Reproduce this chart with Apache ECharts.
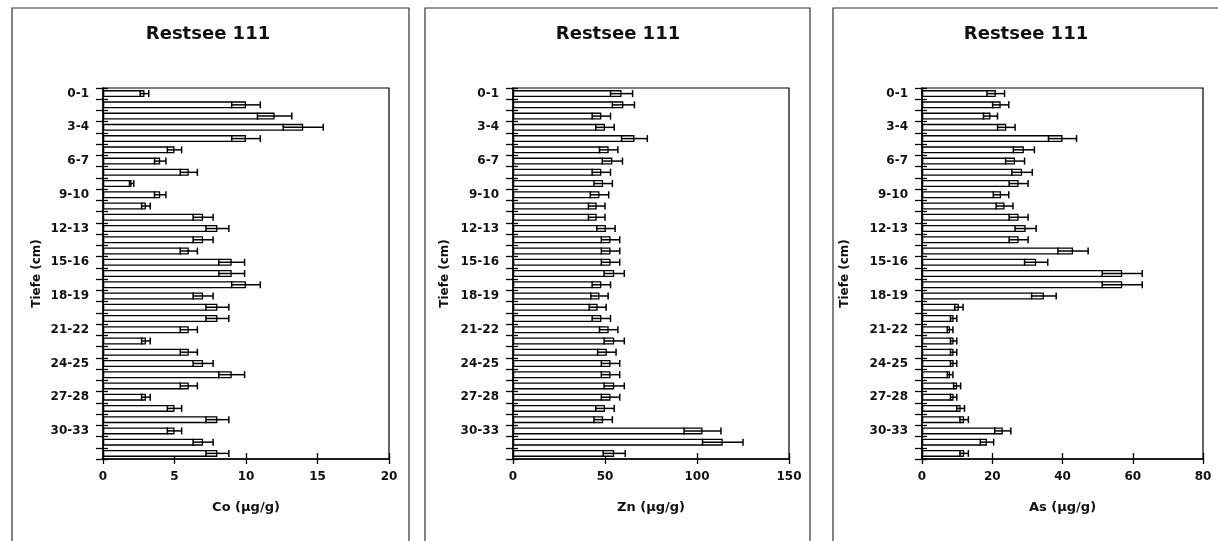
<!DOCTYPE html>
<html>
<head>
<meta charset="utf-8">
<script src="https://cdn.jsdelivr.net/npm/echarts@6/dist/echarts.min.js"></script>
<style>
  html, body { margin: 0; padding: 0; background: #fff; }
  #chart { width: 1218px; height: 541px; }
</style>
</head>
<body>
<div id="chart"></div>
<script>
// Depth categories (top to bottom)
const depthLabels = [
  "0-1","1-2","2-3","3-4","4-5","5-6","6-7","7-8","8-9","9-10",
  "10-11","11-12","12-13","13-14","14-15","15-16","16-17","17-18","18-19","19-20",
  "20-21","21-22","22-23","23-24","24-25","25-26","26-27","27-28","28-29","29-30",
  "30-33","33-36","36-39"
];

const panelTitle = "Restsee 111";
const depthAxisName = "Tiefe (cm)";

// Co (µg/g)
const coValues = [2.9,10,12,14,10,5,4,6,2,4,3,7,8,7,6,9,9,10,7,8,8,6,3,6,7,9,6,3,5,8,5,7,8];
const coErrors = [0.3,1,1.2,1.4,1,0.5,0.4,0.6,0.15,0.4,0.3,0.7,0.8,0.7,0.6,0.9,0.9,1,0.7,0.8,0.8,0.6,0.3,0.6,0.7,0.9,0.6,0.3,0.5,0.8,0.5,0.7,0.8];
const coTicks = [0, 5, 10, 15, 20];

// Zn (µg/g)
const znValues = [59,60,48,50,66,52,54,48,49,47,45.5,45.5,50.5,53,53,53,55,48,47,46,48,52,55,51,53,53,55,53,50,49,103,114,55];
const znErrors = [6,6,5,5,7,5,5.5,5,5,5,4.5,4.5,5,5,5,5,5.5,5,4.7,4.6,5,5,5.5,5,5,5,5.5,5,5,5,10,11,6];
const znTicks = [0, 50, 100, 150];

// As (µg/g)
const asValues = [21,22.4,19.5,24,40,29,26.5,28.5,27.5,22.5,23.5,27.5,29.5,27.5,43,32.5,57,57,34.7,10.5,9,8,9,9,9,8,10,9,11,12,23,18.5,12];
const asErrors = [2.5,2.3,2,2.5,4,3,2.7,2.9,2.7,2.2,2.4,2.7,3,2.7,4.3,3.3,5.7,5.7,3.5,1.2,0.9,0.8,0.9,0.9,0.9,0.8,1,0.9,1.1,1.2,2.3,1.9,1.2];
const asTicks = [0, 20, 40, 60, 80];

const FONT = "DejaVu Sans";

const panels = [
  { name: "Co (\u00b5g/g)", values: coValues, errors: coErrors, ticks: coTicks,
    grid: { left: 103, width: 286 }, box: { x: 12, w: 397 }, titleX: 208, nameGap: 60 },
  { name: "Zn (\u00b5g/g)", values: znValues, errors: znErrors, ticks: znTicks,
    grid: { left: 513, width: 276 }, box: { x: 425, w: 385 }, titleX: 618, nameGap: 62 },
  { name: "As (\u00b5g/g)", values: asValues, errors: asErrors, ticks: asTicks,
    grid: { left: 922, width: 281 }, box: { x: 833, w: 400 }, titleX: 1026, nameGap: 71 }
];

const grids = [], xAxes = [], yAxes = [], series = [], graphics = [];

panels.forEach((p, i) => {
  grids.push({
    left: p.grid.left, width: p.grid.width, top: 88, height: 371,
    show: true, borderColor: "#000", borderWidth: 1.2, backgroundColor: "transparent"
  });
  const tmin = p.ticks[0], tmax = p.ticks[p.ticks.length - 1];
  const step = p.ticks[1] - p.ticks[0];
  xAxes.push({
    gridIndex: i, type: "value", min: tmin, max: tmax, interval: step,
    name: p.name, nameLocation: "middle", nameGap: 42,
    nameTextStyle: { fontFamily: FONT, fontWeight: "bold", fontSize: 13, color: "#111" },
    axisLine: { show: true, lineStyle: { color: "#000", width: 1.5 } },
    axisTick: { show: true, inside: false, length: 5, lineStyle: { color: "#000", width: 1.3 } },
    axisLabel: { margin: 12, fontFamily: FONT, fontWeight: "bold", fontSize: 12, color: "#111" },
    splitLine: { show: false }
  });
  // inside ticks for x axis (crossing effect)
  xAxes.push({
    gridIndex: i, type: "value", min: tmin, max: tmax, interval: step, position: "bottom",
    axisLine: { show: false },
    axisTick: { show: true, inside: true, length: 6, lineStyle: { color: "#000", width: 1.3 } },
    axisLabel: { show: false }, splitLine: { show: false }
  });
  yAxes.push({
    gridIndex: i, type: "category", data: depthLabels, inverse: true,
    name: depthAxisName, nameLocation: "middle", nameGap: p.nameGap, nameRotate: 90,
    nameMoveOverlap: false,
    nameTextStyle: { fontFamily: FONT, fontWeight: "bold", fontSize: 12, color: "#111" },
    axisLine: { show: true, lineStyle: { color: "#000", width: 1.5 } },
    axisTick: { show: true, inside: false, length: 7, interval: 0, lineStyle: { color: "#000", width: 1.3 } },
    axisLabel: { interval: 2, margin: 14, fontFamily: FONT, fontWeight: "bold", fontSize: 12, color: "#111" },
    splitLine: { show: false }
  });
  yAxes.push({
    gridIndex: i, type: "category", data: depthLabels, inverse: true, position: "left",
    axisLine: { show: false },
    axisTick: { show: true, inside: true, length: 5, interval: 0, lineStyle: { color: "#000", width: 1.3 } },
    axisLabel: { show: false }, splitLine: { show: false }
  });

  series.push({
    type: "bar", xAxisIndex: 2 * i, yAxisIndex: 2 * i,
    data: p.values, barWidth: 7,
    itemStyle: { color: "#fff", borderColor: "#000", borderWidth: 1.3 },
    silent: true, animation: false
  });
  series.push({
    type: "custom", xAxisIndex: 2 * i, yAxisIndex: 2 * i,
    data: p.values.map((v, k) => [v, k, p.errors[k]]),
    encode: { x: 0, y: 1 },
    z: 5, silent: true, animation: false,
    renderItem: function (params, api) {
      const v = api.value(0), k = api.value(1), e = api.value(2);
      const lo = api.coord([v - e, k]);
      const hi = api.coord([v + e, k]);
      const h = 3.5;
      const st = { stroke: "#000", lineWidth: 1.5 };
      return {
        type: "group",
        children: [
          { type: "line", shape: { x1: lo[0], y1: lo[1], x2: hi[0], y2: hi[1] }, style: st },
          { type: "line", shape: { x1: lo[0], y1: lo[1] - h, x2: lo[0], y2: lo[1] + h }, style: st },
          { type: "line", shape: { x1: hi[0], y1: hi[1] - h, x2: hi[0], y2: hi[1] + h }, style: st }
        ]
      };
    }
  });

  graphics.push({
    type: "rect", shape: { x: p.box.x, y: 8, width: p.box.w, height: 560 },
    style: { fill: "none", stroke: "#333", lineWidth: 1.2 }, silent: true
  });
  graphics.push({
    type: "text", x: p.titleX, y: 34,
    style: { text: panelTitle, font: "bold 18px '" + FONT + "'", fill: "#111",
             textAlign: "center", textVerticalAlign: "middle" },
    silent: true
  });
});

const chart = echarts.init(document.getElementById("chart"), null, { renderer: "canvas" });
chart.setOption({
  animation: false,
  backgroundColor: "#fff",
  grid: grids,
  xAxis: xAxes,
  yAxis: yAxes,
  series: series,
  graphic: graphics
});
</script>
</body>
</html>
